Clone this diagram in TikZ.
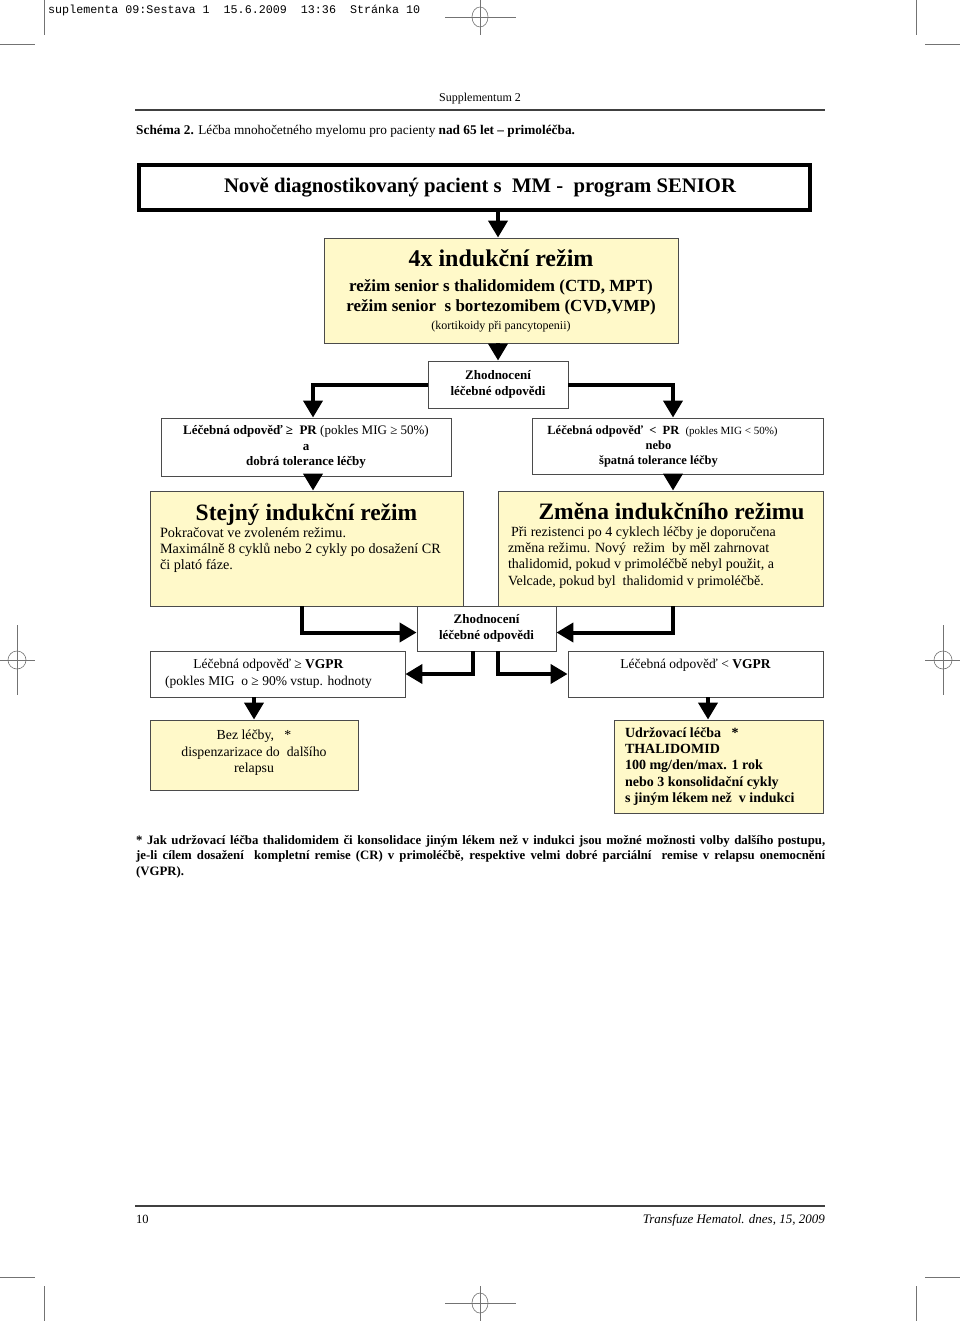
\documentclass[tikz,border=0pt]{standalone}
\usepackage{fontspec}
\setmainfont{Liberation Serif}
\setmonofont{Liberation Mono}
\usetikzlibrary{arrows.meta}
\definecolor{paleyellow}{RGB}{255,249,201}
\definecolor{framegray}{RGB}{75,75,75}
\newcommand{\fsz}[2]{\fontsize{#1}{#2}\selectfont}

\begin{document}
\begin{tikzpicture}[x=1pt, y=-1pt,
		box/.style={shape=rectangle, draw=framegray, line width=0.9pt, inner sep=0pt, align=center},
		ybox/.style={box, fill=paleyellow},
		wbox/.style={box, fill=white},
		flow/.style={line width=4pt, -{Triangle[length=17pt,width=19pt]}},
		cropline/.style={line width=0.6pt, draw=black!55},
		rule/.style={line width=1.2pt, draw=black!75}]
			\fill[white] (0,0) rectangle (960,1321);
			\useasboundingbox (0,0) rectangle (960,1321);
			
			\draw[cropline] (44,0) -- (44,35);
			\draw[cropline] (0,44) -- (35,44);
			\draw[cropline] (916,0) -- (916,35);
			\draw[cropline] (925,44) -- (960,44);
			\draw[cropline] (445,17) -- (516,17);
			\draw[cropline] (480,0) -- (480,35);
			\draw[cropline] (480,17) ellipse [x radius=8pt, y radius=10pt];
			\draw[cropline] (0,660) -- (35,660);
			\draw[cropline] (17,625) -- (17,695);
			\draw[cropline] (17,660) circle [radius=9pt];
			\draw[cropline] (925,660) -- (960,660);
			\draw[cropline] (943,625) -- (943,695);
			\draw[cropline] (943,660) circle [radius=9pt];
			\draw[cropline] (0,1277) -- (35,1277);
			\draw[cropline] (925,1277) -- (960,1277);
			\draw[cropline] (44,1286) -- (44,1321);
			\draw[cropline] (916,1286) -- (916,1321);
			\draw[cropline] (445,1303) -- (516,1303);
			\draw[cropline] (480,1286) -- (480,1321);
			\draw[cropline] (480,1303) ellipse [x radius=8pt, y radius=10pt];
			
			\node[anchor=base west, inner sep=0pt, font=\ttfamily\fsz{11.7}{13}] (slug) at (48,14) {suplementa\ 09:Sestava\ 1\ \ 15.6.2009\ \ 13:36\ \ Stránka\ 10};
			\node[anchor=base, inner sep=0pt, font=\fsz{12}{14}] (supp) at (480,102) {Supplementum 2};
			\draw[rule] (135,110) -- (825,110);
			\node[anchor=base west, inner sep=0pt, font=\fsz{13.3}{15}] (caption) at (136,135) {\textbf{Schéma 2.} Léčba mnohočetného myelomu pro pacienty \textbf{nad 65 let – primoléčba.}};
			
			\node[shape=rectangle, draw=black, line width=4pt, fill=white, minimum width=671pt, minimum height=45pt, font=\fsz{20.7}{24}\bfseries] (top) at (474.5,187.5) {\hspace*{11pt}Nově diagnostikovaný pacient s\ \ MM -\ \ program SENIOR};
			\node[ybox, minimum width=354pt, minimum height=105pt, font=\fsz{17}{20}\bfseries] (ind) at (501,290.5) {{\fsz{24}{26}4x indukční režim}\\[5pt] režim senior s thalidomidem (CTD, MPT)\\ režim senior\ \ s bortezomibem (CVD,VMP)\\[-2pt] {\fsz{12}{14}\mdseries (kortikoidy při pancytopenii)}};
			\node[wbox, minimum width=140pt, minimum height=47pt, font=\fsz{13}{16}\bfseries] (eval1) at (498,384.5) {Zhodnocení\\ léčebné odpovědi};
			\node[wbox, minimum width=290pt, minimum height=58pt, font=\fsz{13}{15.5}] (pr) at (306,447) {\textbf{Léčebná odpověď ≥\ \ PR} (pokles MIG ≥ 50\%)\\ \textbf{a}\\ \textbf{dobrá tolerance léčby}};
			\node[wbox, minimum width=291pt, minimum height=56pt, font=\fsz{12.5}{15}\bfseries] (nopr) at (677.5,446) {Léčebná odpověď\ \ <\ \ PR\ \ {\mdseries\fsz{11}{13}(pokles MIG < 50\%)}\kern30pt\\ nebo\kern38pt\\ špatná tolerance léčby\kern38pt};
			\node[ybox, minimum width=313pt, minimum height=115pt, text width=293pt, align=flush left, font=\fsz{14.2}{16}] (same) at (306.5,548.5) {\hfill{\fsz{23.5}{25}\bfseries Stejný indukční režim}\hfill\mbox{}\\[1pt] Pokračovat ve zvoleném režimu.\\ Maximálně 8 cyklů nebo 2 cykly po dosažení CR\\ či plató fáze.\\[8pt]\mbox{}};
			\node[ybox, minimum width=325pt, minimum height=115pt, text width=305pt, align=flush left, font=\fsz{14}{16.3}] (change) at (660.5,548.5) {\hfill\hspace*{22pt}{\fsz{23.5}{25}\bfseries Změna indukčního režimu}\hfill\mbox{}\\[1pt] \hspace*{3pt}Při rezistenci po 4 cyklech léčby je doporučena\\ změna režimu. Nový\ \ režim\ \ by měl zahrnovat\\ thalidomid, pokud v primoléčbě nebyl použit, a\\ Velcade, pokud byl\ \ thalidomid v primoléčbě.\\[-7pt]\mbox{}};
			\node[wbox, minimum width=139pt, minimum height=45pt, font=\fsz{13}{16}\bfseries] (eval2) at (486.5,628.5) {Zhodnocení\\ léčebné odpovědi};
			\node[wbox, minimum width=255pt, minimum height=46pt, font=\fsz{13.5}{17}] (vgpr) at (277.5,674) {Léčebná odpověď ≥ \textbf{VGPR}\kern18pt\\ (pokles MIG\ \ o ≥ 90\% vstup. hodnoty\kern18pt};
			\node[wbox, minimum width=255pt, minimum height=46pt, font=\fsz{13.5}{17}] (novgpr) at (695.5,674) {Léčebná odpověď < \textbf{VGPR}\\[3pt]\mbox{}};
			\node[ybox, minimum width=208pt, minimum height=70pt, font=\fsz{13.8}{16.5}] (nothing) at (254,755) {Bez léčby,\ \ \ *\\ dispenzarizace do\ \ dalšího\\ relapsu\\[-9pt]\mbox{}};
			\node[ybox, minimum width=209pt, minimum height=93pt, text width=187pt, align=flush left, font=\fsz{14}{16.3}\bfseries] (maint) at (718.5,766.5) {Udržovací léčba\ \ \ *\\ THALIDOMID\\ 100 mg/den/max. 1 rok\\ nebo 3 konsolidační cykly\\ s jiným lékem než\ \ v indukci};
			
			\coordinate (xl) at (313,0);
			\coordinate (xr) at (673,0);
			\coordinate (xs) at (302,0);
			\coordinate (xa) at (473,0);
			\coordinate (xb) at (498,0);
			\coordinate (xd) at (708,0);
			
			\draw[flow] (top.south -| eval1) -- (ind.north -| eval1);
			\draw[flow] (ind.south -| eval1) -- (eval1.north);
			\draw[flow] (eval1.west) -| (xl |- pr.north);
			\draw[flow] (eval1.east) -| (xr |- nopr.north);
			\draw[flow] (xl |- pr.south) -- (xl |- same.north);
			\draw[flow] (xr |- nopr.south) -- (xr |- change.north);
			\draw[flow] (xs |- same.south) |- ([yshift=-4pt]eval2.west);
			\draw[flow] (xr |- change.south) |- ([yshift=-4pt]eval2.east);
			\draw[flow] (xa |- eval2.south) |- (vgpr.east);
			\draw[flow] (xb |- eval2.south) |- (novgpr.west);
			\draw[flow] (vgpr.south -| nothing) -- (nothing.north);
			\draw[flow] (xd |- novgpr.south) -- (xd |- maint.north);
			
			\node[anchor=north west, inner sep=0pt, text width=689pt, align=justify, font=\fsz{12.8}{15.5}\bfseries] (note) at (136,835) {* Jak udržovací léčba thalidomidem či konsolidace jiným lékem než v indukci jsou možné možnosti volby dalšího postupu,\linebreak je-li cílem dosažení\ \ kompletní remise (CR) v primoléčbě, respektive velmi dobré parciální\ \ remise v relapsu onemocnění\linebreak (VGPR).};
			
			\draw[rule] (135,1206) -- (825,1206);
			\node[anchor=base west, inner sep=0pt, font=\fsz{12.5}{14}] (page) at (136,1223) {10};
			\node[anchor=base east, inner sep=0pt, font=\fsz{13}{15}\itshape] (journal) at (825,1223) {Transfuze Hematol. dnes, 15, 2009};
		\end{tikzpicture}
\end{document}
